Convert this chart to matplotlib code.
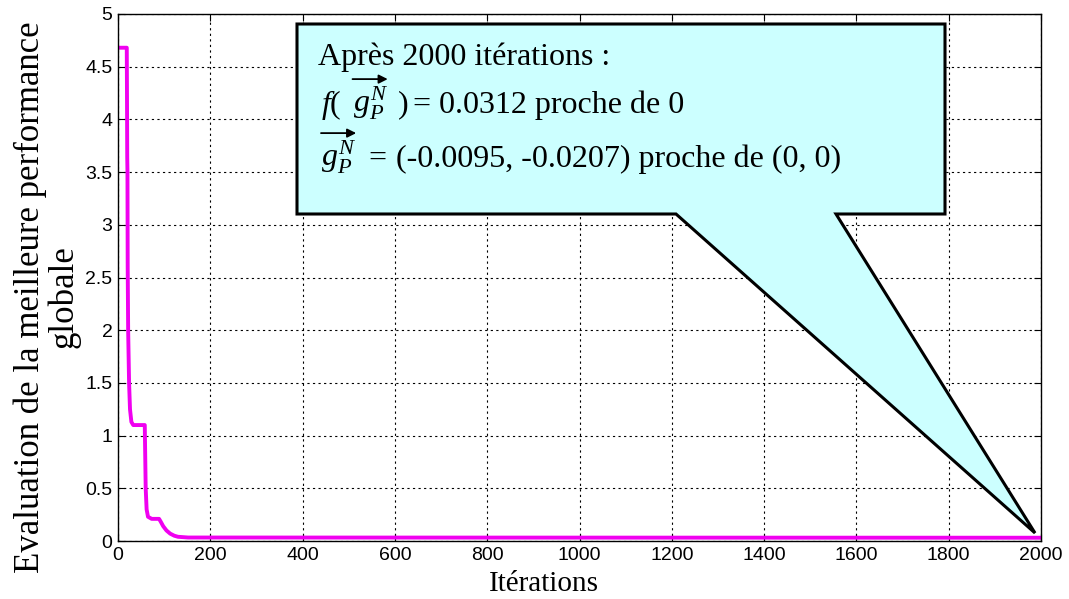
import numpy as np
import matplotlib.pyplot as plt
from matplotlib.patches import Polygon, FancyArrowPatch

# meilleure performance globale par iteration
iterations = [1, 19, 19.5, 20, 20.5, 21, 22, 24, 26, 29, 33, 58, 59, 60, 62, 65, 73,
              89, 93, 98, 105, 113, 122, 130, 152, 2000]
performance = [4.68, 4.68, 4.2, 3.64, 3.5, 2.6, 2.0, 1.5, 1.25, 1.13, 1.1, 1.1, 0.8,
               0.5, 0.3, 0.23, 0.21, 0.21, 0.18, 0.14, 0.1, 0.07, 0.05, 0.04, 0.033, 0.031]

xticks = np.arange(0, 2001, 200)
yticks = np.arange(0, 5.01, 0.5)
ytick_labels = ['0', '0.5', '1', '1.5', '2', '2.5', '3', '3.5', '4', '4.5', '5']

plt.rcParams['mathtext.fontset'] = 'custom'
plt.rcParams['mathtext.rm'] = 'Liberation Serif'
plt.rcParams['mathtext.it'] = 'Liberation Serif:italic'

W, H = 1069, 599
fig = plt.figure(figsize=(W/100, H/100), dpi=100)
ax = fig.add_axes([118/W, 1-541/H, (1041-118)/W, (541-14)/H])

ax.plot(iterations, performance, color='#f000f0', lw=2.8, solid_joinstyle='round')
ax.set_xlim(0, 2000)
ax.set_ylim(0, 5)
ax.set_xticks(xticks)
ax.set_yticks(yticks)
ax.set_yticklabels(ytick_labels)
ax.tick_params(direction='in', top=True, right=True, labelsize=14, length=5, pad=4)
for lab in ax.get_xticklabels() + ax.get_yticklabels():
    lab.set_family('Liberation Sans')
ax.grid(True, color='black', ls=(0, (2, 3)), lw=0.8)
for s in ax.spines.values():
    s.set_linewidth(1.0)

fig.text(544/W, 1-591/H, 'Itérations', ha='center', va='baseline',
         family='Liberation Serif', fontsize=21)
fig.text(47/W, 1-297/H, 'Evaluation de la meilleure performance\nglobale',
         ha='center', va='center', rotation=90, family='Liberation Serif',
         fontsize=25, linespacing=1.0, multialignment='center')

# bulle (coordonnees en pixels de la figure)
pts = [(297, 24), (945, 24), (945, 214), (836, 214), (1035, 533), (676, 214), (297, 214)]
poly = Polygon([(x/W, 1-y/H) for x, y in pts], closed=True, transform=fig.transFigure,
               facecolor='#ccffff', edgecolor='black', lw=2.2, joinstyle='miter', zorder=5)
fig.patches.append(poly)

renderer = fig.canvas.get_renderer()
FS = 23


def put(x, y, s):
    t = fig.text(x/W, 1-y/H, s, family='Liberation Serif', fontsize=FS,
                 ha='left', va='baseline', zorder=6)
    return t.get_window_extent(renderer)


def arrow_over(bb, up=6):
    ya = (bb.y1 + up) / H
    a = FancyArrowPatch((bb.x0/W, ya), (bb.x1/W, ya), transform=fig.transFigure,
                        arrowstyle='-|>', mutation_scale=13, lw=1.3, color='black',
                        shrinkA=0, shrinkB=0, zorder=7)
    fig.patches.append(a)


put(318, 65, 'Après 2000 itérations :')

bb = put(321, 113, r'$f($')
bg = put(bb.x1 + 11, 113, r'$g_{P}^{N}$')
arrow_over(bg)
bb = put(bg.x1 + 9, 113, r'$)$')
bb = put(bb.x1 + 4, 113, '=')
put(bb.x1 + 9, 113, '0.0312 proche de 0')

bg = put(321, 167, r'$g_{P}^{N}$')
arrow_over(bg)
bb = put(bg.x1 + 12, 167, '=')
put(bb.x1 + 10, 167, '(-0.0095, -0.0207) proche de (0, 0)')

fig.savefig('out.png', dpi=100)
